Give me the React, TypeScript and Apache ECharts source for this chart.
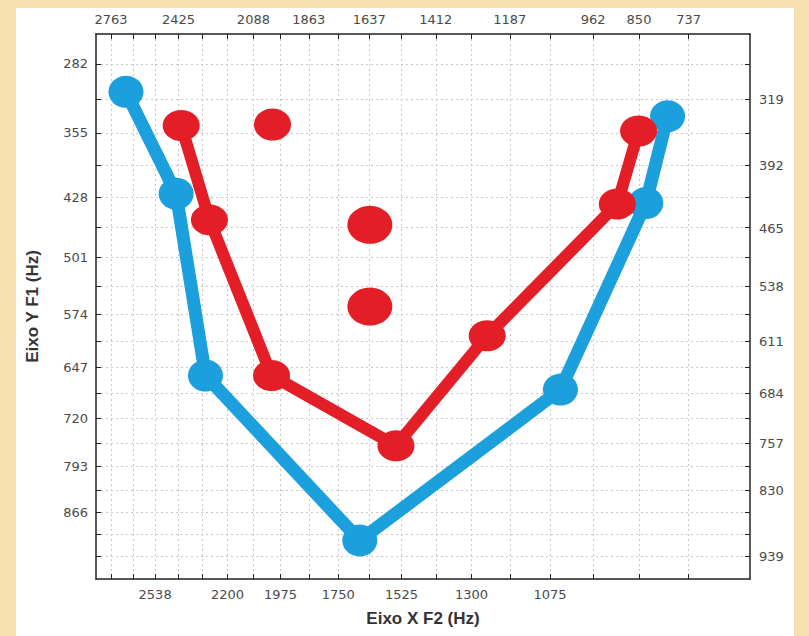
import React, { useEffect, useRef } from "react";
import * as echarts from "echarts";

// Mel-scale helper (both axes of the vowel chart are on a mel scale)
const mel = (f: number) => 2595 * Math.log10(1 + f / 700);

// Tick labels (Hz)
const leftTicks = [282, 355, 428, 501, 574, 647, 720, 793, 866];
const rightTicks = [319, 392, 465, 538, 611, 684, 757, 830, 939];
const topTicks = [2763, 2425, 2088, 1863, 1637, 1412, 1187, 962, 850, 737];
const bottomTicks = [2538, 2200, 1975, 1750, 1525, 1300, 1075];

// Axis ranges (Hz)
const F2_RANGE = [609, 2843];
const F1_RANGE = [252, 978];

// Blue series (F2, F1 in Hz)
const blueF2 = [2685, 2436, 2299, 1671, 1047, 834, 784];
const blueF1 = [311, 424, 658, 912, 678, 435, 337];

// Red series (F2, F1 in Hz)
const redF2 = [2412, 2281, 2012, 1544, 1253, 902, 851];
const redF1 = [347, 455, 658, 761, 603, 436, 353];

// Red isolated points (F2, F1 in Hz)
const redExtraF2 = [2008, 1635, 1635];
const redExtraF1 = [346, 461, 564];

// Grid tick steps (Hz)
const xTickHz: number[] = [];
for (let k = 0; k <= 18; k++) xTickHz.push(737 + 112.5 * k);
const yTickHz: number[] = [];
for (let j = 0; j <= 18; j++) yTickHz.push(282 + 36.5 * j);

const BLUE = "#1C9FDD";
const RED = "#E41E26";
const LABEL_FONT = {
  color: "#4a4a4a",
  fontSize: 13,
  fontFamily: "DejaVu Sans, Liberation Sans, sans-serif",
};
const NAME_FONT = {
  color: "#333",
  fontSize: 17,
  fontWeight: "bold" as const,
  fontFamily: "Liberation Sans, Arial, sans-serif",
};

const fmt = (arr: number[]) => (v: number) => {
  const l = arr.find((a) => Math.abs(mel(a) - v) < 1e-6);
  return l === undefined ? "" : String(l);
};

export default function App() {
  const ref = useRef<HTMLDivElement>(null);
  useEffect(() => {
    if (!ref.current) return;
    const chart = echarts.init(ref.current, undefined, { renderer: "svg" });
    const axisLine = { show: true, onZero: false, lineStyle: { color: "#222", width: 1.5 } };
    const tickX = { show: true, inside: true, length: 5, customValues: xTickHz.map(mel), lineStyle: { color: "#222", width: 1 } };
    const tickY = { show: true, inside: true, length: 5, customValues: yTickHz.map(mel), lineStyle: { color: "#222", width: 1 } };
    const gridLine = { show: true, lineStyle: { color: "#c8c8c8", type: [2, 3] as any, width: 1 } };
    const xBase = {
      type: "value" as const,
      min: mel(F2_RANGE[0]),
      max: mel(F2_RANGE[1]),
      inverse: true,
      axisLine,
      axisTick: tickX,
    };
    const yBase = {
      type: "value" as const,
      min: mel(F1_RANGE[0]),
      max: mel(F1_RANGE[1]),
      inverse: true,
      axisLine,
      axisTick: tickY,
    };
    chart.setOption({
      animation: false,
      grid: { left: 96, right: 59, top: 34, bottom: 57, containLabel: false },
      xAxis: [
        {
          ...xBase,
          position: "bottom",
          splitLine: gridLine,
          axisLabel: { ...LABEL_FONT, margin: 9, customValues: bottomTicks.map(mel), formatter: fmt(bottomTicks) },
          name: "Eixo X F2 (Hz)",
          nameLocation: "middle",
          nameGap: 31,
          nameTextStyle: NAME_FONT,
        },
        {
          ...xBase,
          position: "top",
          splitLine: { show: false },
          axisLabel: { ...LABEL_FONT, margin: 8, customValues: topTicks.map(mel), formatter: fmt(topTicks) },
        },
      ],
      yAxis: [
        {
          ...yBase,
          position: "left",
          splitLine: gridLine,
          axisLabel: { ...LABEL_FONT, margin: 8, customValues: leftTicks.map(mel), formatter: fmt(leftTicks) },
          name: "Eixo Y F1 (Hz)",
          nameLocation: "middle",
          nameGap: 55,
          nameRotate: 90,
          nameTextStyle: NAME_FONT,
        },
        {
          ...yBase,
          position: "right",
          splitLine: { show: false },
          axisLabel: { ...LABEL_FONT, margin: 9, customValues: rightTicks.map(mel), formatter: fmt(rightTicks) },
        },
      ],
      series: [
        {
          type: "line",
          name: "Azul",
          xAxisIndex: 0,
          yAxisIndex: 0,
          data: blueF2.map((f2, i) => [mel(f2), mel(blueF1[i])]),
          symbol: "circle",
          symbolSize: [35, 32],
          lineStyle: { color: BLUE, width: 13 },
          itemStyle: { color: BLUE, opacity: 1 },
          z: 2,
        },
        {
          type: "line",
          name: "Vermelho",
          xAxisIndex: 0,
          yAxisIndex: 0,
          data: redF2.map((f2, i) => [mel(f2), mel(redF1[i])]),
          symbol: "circle",
          symbolSize: [37, 31],
          lineStyle: { color: RED, width: 12 },
          itemStyle: { color: RED, opacity: 1 },
          z: 3,
        },
        {
          type: "scatter",
          name: "Vermelho isolado",
          xAxisIndex: 0,
          yAxisIndex: 0,
          data: redExtraF2.map((f2, i) => ({
            value: [mel(f2), mel(redExtraF1[i])],
            symbolSize: i === 0 ? [37, 32] : [45, 38],
          })),
          symbol: "circle",
          itemStyle: { color: RED, opacity: 1 },
          z: 3,
        },
      ],
    });
    return () => chart.dispose();
  }, []);

  return (
    <div style={{ position: "absolute", left: 0, top: 0, width: 809, height: 636, background: "#F5E0AE", overflow: "hidden" }}>
      <div style={{ position: "absolute", left: 16, top: 8, width: 778, height: 628, background: "#ffffff" }} />
      <div ref={ref} style={{ position: "absolute", left: 0, top: 0, width: 809, height: 636 }} />
    </div>
  );
}
